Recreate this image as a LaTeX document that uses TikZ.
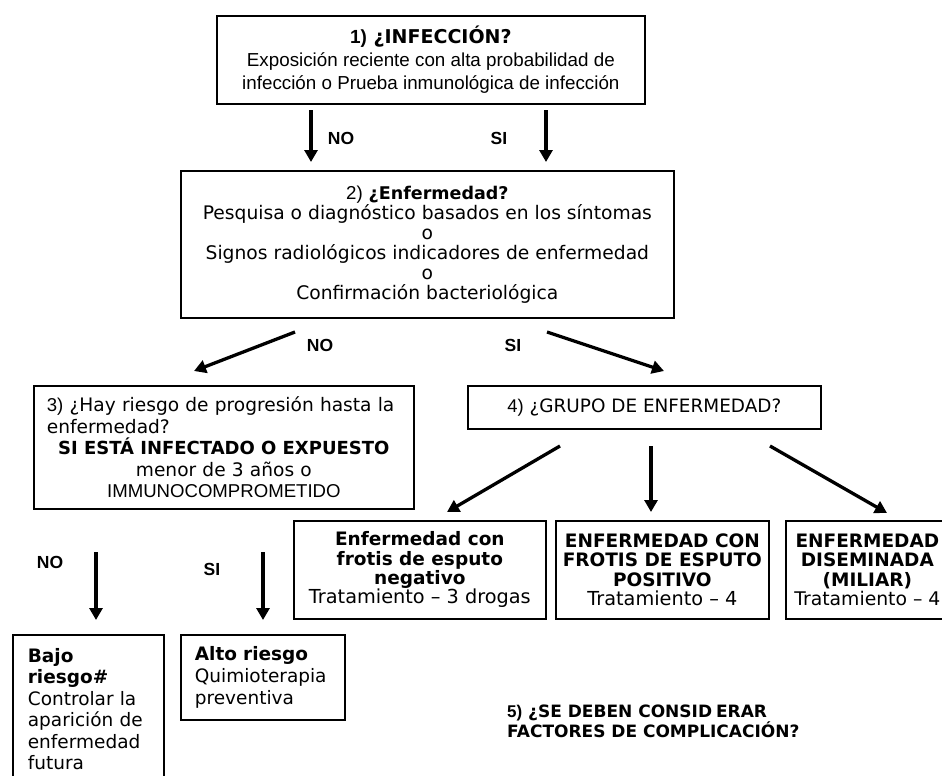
\documentclass[tikz,border=0pt]{standalone}
\usepackage{fontspec}
\setmainfont{DejaVu Sans}
\newfontfamily\arial{Liberation Sans}
\usetikzlibrary{arrows.meta}
\begin{document}
\begin{tikzpicture}[x=1pt,y=-1pt,
  box/.style={draw, line width=1.7pt, rectangle, inner ysep=0pt, anchor=north west},
  arr/.style={line width=3.3pt, -{Triangle[length=12pt,width=13pt]}},
  lbl/.style={font=\arial\bfseries\fontsize{17.5}{17.5}\selectfont, inner sep=0pt}]
\useasboundingbox (0,0) rectangle (942,776);
\clip (0,0) rectangle (942,776);

% box 1
\node[box, minimum width=428pt, minimum height=88pt, align=center,
      font=\fontsize{18.8}{23}\selectfont] (b1) at (216,15)
  {{\fontsize{19}{23}\selectfont\bfseries{\arial 1)} ¿INFECCIÓN?}\\
   {\arial Exposición reciente con alta probabilidad de}\\
   {\arial infección o Prueba inmunológica de infección}};

% box 2
\node[box, minimum width=493pt, minimum height=147pt, align=center,
      font=\fontsize{18.7}{20}\selectfont] (b2) at (180,170)
  {{\arial 2)} {\fontsize{17.5}{20}\selectfont\bfseries ¿Enfermedad?}\\
   Pesquisa o diagnóstico basados en los síntomas\\
   o\\
   Signos radiológicos indicadores de enfermedad\\
   o\\
   Confirmación bacteriológica};

% box 3
\node[box, minimum width=380pt, minimum height=123pt, inner xsep=13pt, text width=354pt,
      align=left, font=\fontsize{18.6}{21.5}\selectfont] (b3) at (33,385)
  {{\arial 3)} ¿Hay riesgo de progresión hasta la\\
   enfermedad?\par
   {\centering{\fontsize{18}{21.5}\selectfont\bfseries SI ESTÁ INFECTADO O EXPUESTO}\\
   menor de 3 años o\\
   {\arial IMMUNOCOMPROMETIDO}\par}};

% box 4
\node[box, minimum width=353pt, minimum height=43pt, align=center,
      font=\fontsize{18.4}{20}\selectfont] (b4) at (467,385)
  {{\arial 4)} ¿GRUPO DE ENFERMEDAD?};

% bottom boxes
\node[box, minimum width=252pt, minimum height=98pt, align=center,
      font=\fontsize{18.5}{19.3}\selectfont] (ba) at (293,520)
  {\textbf{Enfermedad con}\\ \textbf{frotis de esputo}\\ \textbf{negativo}\\
   {\fontsize{19.3}{19.3}\selectfont Tratamiento – 3 drogas}};
\node[box, minimum width=213pt, minimum height=98pt, align=center,
      font=\fontsize{18.5}{19.3}\selectfont] (bb) at (555,520)
  {\textbf{ENFERMEDAD CON}\\ \textbf{FROTIS DE ESPUTO}\\ \textbf{POSITIVO}\\
   {\fontsize{19.3}{19.3}\selectfont Tratamiento – 4}};
\node[box, minimum width=163pt, minimum height=98pt, align=center,
      font=\fontsize{18.5}{19.3}\selectfont] (bc) at (785,520)
  {\textbf{ENFERMEDAD}\\ \textbf{DISEMINADA}\\ \textbf{(MILIAR)}\\
   {\fontsize{18.8}{19.3}\selectfont Tratamiento – 4}};

% low / high risk
\node[box, minimum width=151pt, minimum height=148pt, inner xsep=15pt, text width=121pt,
      align=left, font=\fontsize{18.5}{21.5}\selectfont] (bajo) at (12,634)
  {\textbf{Bajo}\\ \textbf{riesgo\#}\\ Controlar la\\ aparición de\\ enfermedad\\ futura};
\node[box, minimum width=164pt, minimum height=85pt, inner xsep=14pt, text width=136pt,
      align=left, font=\fontsize{18.5}{22}\selectfont] (alto) at (180,634)
  {\textbf{Alto riesgo}\\ Quimioterapia\\ preventiva};

% question 5
\node[anchor=west, inner sep=0pt, align=left, font=\bfseries\fontsize{17}{19}\selectfont] (q5) at (507,721)
  {{\arial 5)} ¿SE DEBEN CONSID\hspace{4pt}ERAR\\ FACTORES DE COMPLICACIÓN?};

% arrow end points
\coordinate (a1s) at (311,110); \coordinate (a1e) at (311,162);
\coordinate (a2s) at (546,110); \coordinate (a2e) at (546,162);
\coordinate (a3s) at (295,332); \coordinate (a3e) at (194,371);
\coordinate (a4s) at (547,332); \coordinate (a4e) at (664,371);
\coordinate (a5s) at (560,446); \coordinate (a5e) at (447,512);
\coordinate (a6s) at (651,446); \coordinate (a6e) at (651,512);
\coordinate (a7s) at (770,446); \coordinate (a7e) at (887,513);
\coordinate (a8s) at (96,552);  \coordinate (a8e) at (96,620);
\coordinate (a9s) at (263,552); \coordinate (a9e) at (263,620);

\draw[arr] (a1s) -- (a1e);
\draw[arr] (a2s) -- (a2e);
\draw[arr] (a3s) -- (a3e);
\draw[arr] (a4s) -- (a4e);
\draw[arr] (a5s) -- (a5e);
\draw[arr] (a6s) -- (a6e);
\draw[arr] (a7s) -- (a7e);
\draw[arr] (a8s) -- (a8e);
\draw[arr] (a9s) -- (a9e);

% labels
\node[lbl] (l1) at (341,138) {NO};
\node[lbl] (l2) at (499,138) {SI};
\node[lbl] (l3) at (320,345) {NO};
\node[lbl] (l4) at (513,345) {SI};
\node[lbl] (l5) at (50,562) {NO};
\node[lbl] (l6) at (212,569) {SI};
\end{tikzpicture}
\end{document}
